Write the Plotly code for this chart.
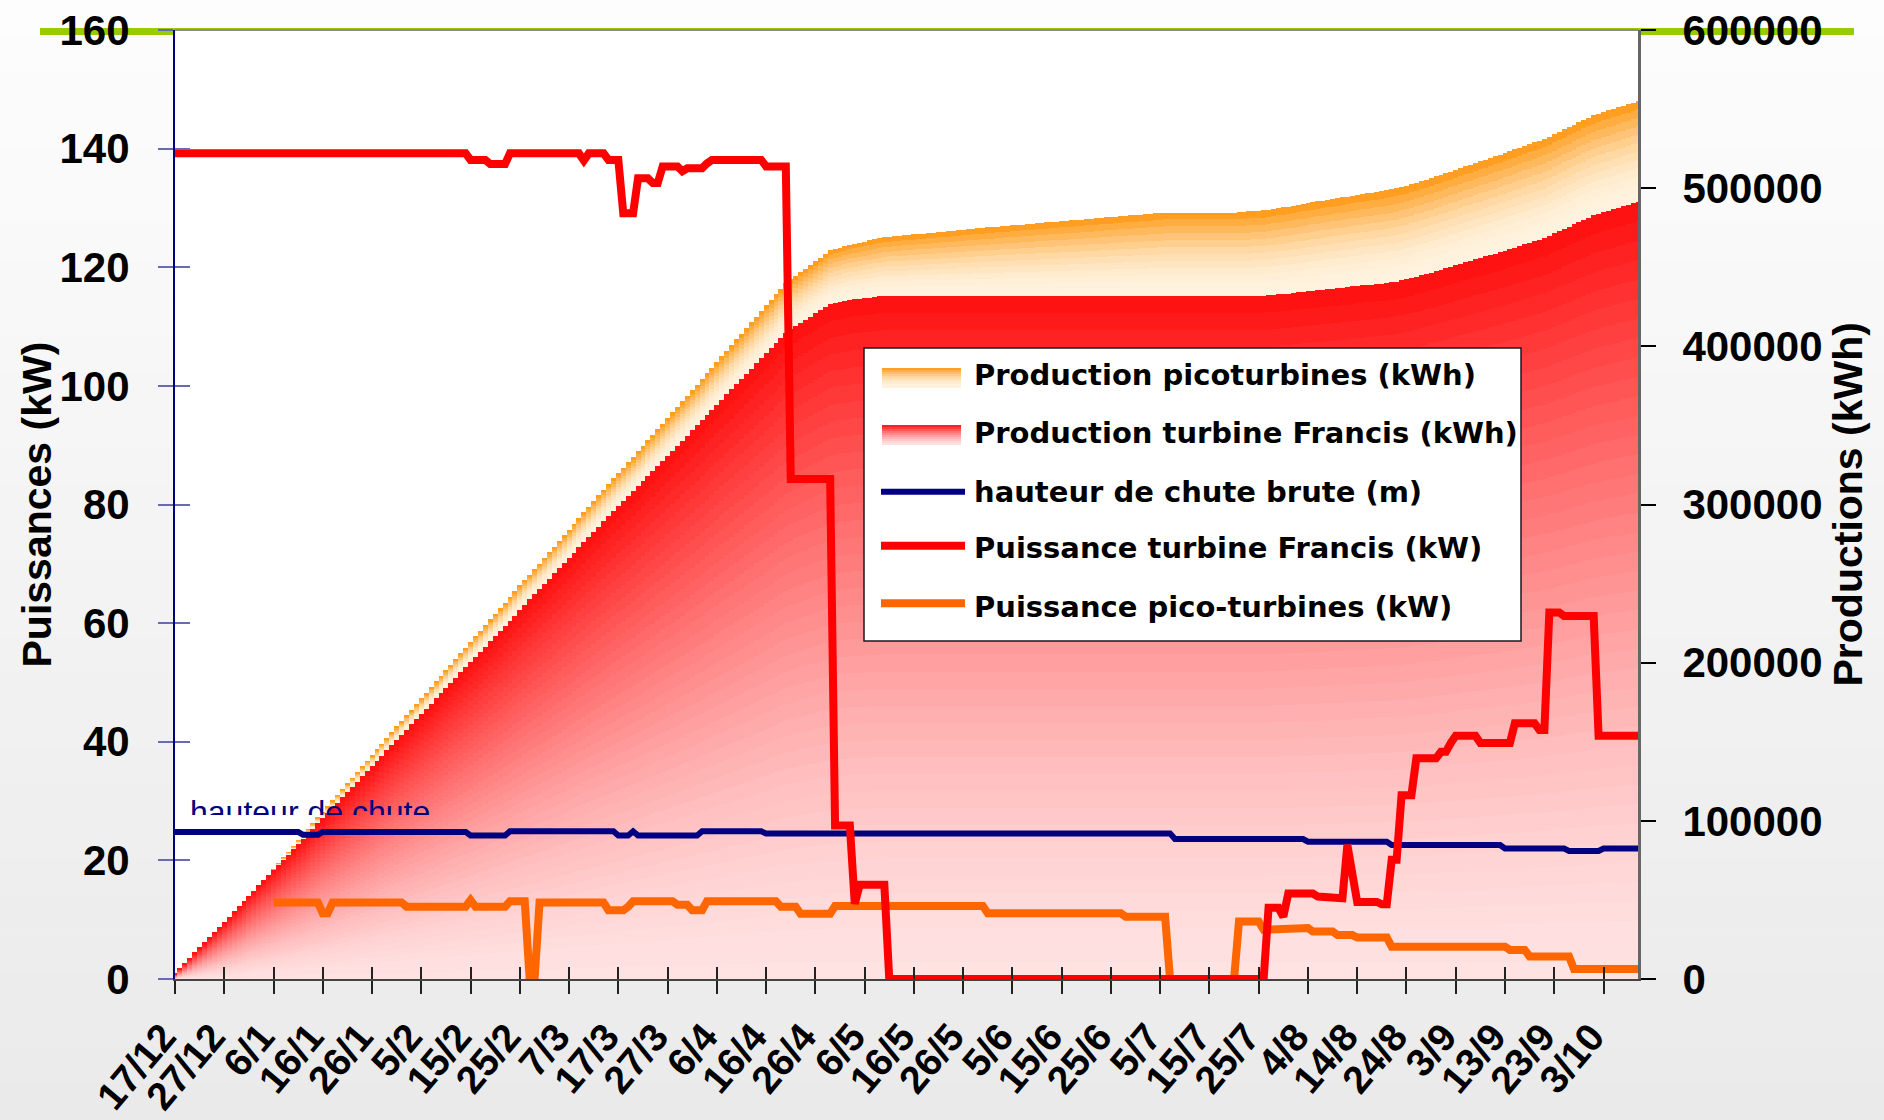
import plotly.graph_objects as go
import pandas as pd

# ---------------- data ----------------
start_date = "2008-12-17"
n_days = 298

tick_labels = ["17/12", "27/12", "6/1", "16/1", "26/1", "5/2", "15/2", "25/2", "7/3", "17/3",
               "27/3", "6/4", "16/4", "26/4", "6/5", "16/5", "26/5", "5/6", "15/6", "25/6",
               "5/7", "15/7", "25/7", "4/8", "14/8", "24/8", "3/9", "13/9", "23/9", "3/10"]

left_ticks = [0, 20, 40, 60, 80, 100, 120, 140, 160]
right_ticks = [0, 100000, 200000, 300000, 400000, 500000, 600000]

# cumulative production, Francis turbine (kWh), one value per day
prod_francis_kwh = [
    3291, 6582, 9873, 13164, 16455, 19746, 23037, 26328, 29619, 32910,
    36201, 39492, 42783, 46074, 49365, 52656, 55947, 59238, 62529, 65820,
    69111, 72402, 75693, 78984, 82275, 85566, 88857, 92148, 95439, 98730,
    102021, 105312, 108603, 111894, 115185, 118476, 121767, 125058, 128349, 131640,
    134931, 138222, 141513, 144804, 148095, 151386, 154677, 157968, 161259, 164550,
    167841, 171132, 174423, 177714, 181005, 184296, 187587, 190878, 194169, 197460,
    200726, 203992, 207258, 210524, 213773, 217022, 220271, 223520, 226811, 230102,
    233393, 236684, 239975, 243266, 246557, 249848, 253139, 256430, 259721, 263012,
    266303, 269594, 272885, 276148, 279439, 282730, 286021, 289312, 292578, 295844,
    299110, 302163, 305216, 308269, 311461, 314653, 317845, 321018, 324191, 327431,
    330671, 333911, 337151, 340371, 343604, 346837, 350070, 353303, 356555, 359821,
    363087, 366353, 369619, 372885, 376151, 379417, 382683, 385949, 389215, 392481,
    395721, 398961, 402201, 405441, 408681, 410704, 412727, 414750, 416773, 418796,
    420819, 422842, 424865, 426888, 427510, 428132, 428754, 429376, 429681, 430063,
    430445, 430827, 431209, 431591, 431973, 431973, 431973, 431973, 431973, 431973,
    431973, 431973, 431973, 431973, 431973, 431973, 431973, 431973, 431973, 431973,
    431973, 431973, 431973, 431973, 431973, 431973, 431973, 431973, 431973, 431973,
    431973, 431973, 431973, 431973, 431973, 431973, 431973, 431973, 431973, 431973,
    431973, 431973, 431973, 431973, 431973, 431973, 431973, 431973, 431973, 431973,
    431973, 431973, 431973, 431973, 431973, 431973, 431973, 431973, 431973, 431973,
    431973, 431973, 431973, 431973, 431973, 431973, 431973, 431973, 431973, 431973,
    431973, 431973, 431973, 431973, 431973, 431973, 431973, 431973, 431973, 431973,
    431973, 431973, 432253, 432533, 432813, 433058, 433395, 433732, 434069, 434406,
    434743, 435080, 435405, 435730, 436055, 436380, 436698, 437016, 437334, 437863,
    438167, 438471, 438775, 439079, 439383, 439678, 439973, 440443, 440913, 441638,
    442363, 443088, 443958, 444828, 445698, 446568, 447438, 448334, 449230, 450161,
    451120, 452079, 453038, 453997, 454956, 455887, 456818, 457749, 458680, 459611,
    460542, 461473, 462481, 463489, 464497, 465505, 466513, 467496, 468479, 469925,
    471371, 472817, 474249, 475681, 477113, 478545, 479977, 481409, 482841, 483800,
    484759, 485718, 486677, 487636, 488595, 489554, 490513, 491472,
]

# cumulative production, pico-turbines (kWh), one value per day
prod_pico_kwh = [
    0, 0, 0, 0, 0, 0, 0, 0, 0, 0,
    0, 0, 0, 0, 0, 0, 0, 0, 0, 0,
    310, 620, 930, 1240, 1550, 1860, 2170, 2480, 2790, 3100,
    3366, 3632, 3942, 4252, 4562, 4872, 5182, 5492, 5802, 6112,
    6422, 6732, 7042, 7352, 7662, 7972, 8282, 8575, 8868, 9161,
    9454, 9747, 10040, 10333, 10626, 10919, 11212, 11505, 11798, 12091,
    12410, 12703, 12996, 13289, 13582, 13875, 14168, 14461, 14775, 15089,
    15403, 15717, 15717, 15717, 16027, 16337, 16647, 16957, 17267, 17577,
    17887, 18197, 18507, 18817, 19127, 19437, 19747, 20057, 20335, 20613,
    20891, 21169, 21462, 21776, 22090, 22404, 22718, 23032, 23346, 23660,
    23974, 24288, 24588, 24888, 25188, 25466, 25744, 26022, 26336, 26650,
    26964, 27278, 27592, 27906, 28220, 28534, 28848, 29162, 29476, 29790,
    30104, 30418, 30732, 31025, 31318, 31611, 31904, 32168, 32432, 32696,
    32960, 33224, 33488, 33752, 34047, 34342, 34637, 34932, 35227, 35522,
    35817, 36112, 36407, 36702, 36997, 37292, 37587, 37882, 38177, 38472,
    38767, 39062, 39357, 39652, 39947, 40242, 40537, 40832, 41127, 41422,
    41717, 42012, 42307, 42602, 42897, 43163, 43429, 43695, 43961, 44227,
    44493, 44759, 45025, 45291, 45557, 45823, 46089, 46355, 46621, 46887,
    47153, 47419, 47685, 47951, 48217, 48483, 48749, 49015, 49281, 49547,
    49813, 50079, 50345, 50597, 50849, 51101, 51353, 51605, 51857, 52109,
    52361, 52613, 52613, 52613, 52613, 52613, 52613, 52613, 52613, 52613,
    52613, 52613, 52613, 52613, 52613, 52613, 52846, 53079, 53312, 53545,
    53778, 53977, 54176, 54375, 54574, 54773, 54972, 55171, 55377, 55583,
    55789, 55981, 56173, 56365, 56557, 56749, 56927, 57105, 57283, 57461,
    57629, 57797, 57965, 58133, 58301, 58469, 58637, 58768, 58899, 59030,
    59161, 59292, 59423, 59554, 59685, 59816, 59947, 60078, 60209, 60340,
    60471, 60602, 60733, 60864, 60995, 61126, 61257, 61388, 61519, 61650,
    61781, 61899, 62017, 62135, 62253, 62344, 62435, 62526, 62617, 62708,
    62799, 62890, 62981, 63072, 63113, 63154, 63195, 63236, 63277, 63318,
    63359, 63400, 63441, 63482, 63523, 63564, 63605, 63646,
]

# gross head (m)
hauteur_chute_m = [
    24.8, 24.8, 24.8, 24.8, 24.8, 24.8, 24.8, 24.8, 24.8, 24.8,
    24.8, 24.8, 24.8, 24.8, 24.8, 24.8, 24.8, 24.8, 24.8, 24.8,
    24.8, 24.8, 24.8, 24.8, 24.8, 24.8, 24.3, 24.3, 24.3, 24.3,
    24.8, 24.8, 24.8, 24.8, 24.8, 24.8, 24.8, 24.8, 24.8, 24.8,
    24.8, 24.8, 24.8, 24.8, 24.8, 24.8, 24.8, 24.8, 24.8, 24.8,
    24.8, 24.8, 24.8, 24.8, 24.8, 24.8, 24.8, 24.8, 24.8, 24.8,
    24.2, 24.2, 24.2, 24.2, 24.2, 24.2, 24.2, 24.2, 24.9, 24.9,
    24.9, 24.9, 24.9, 24.9, 24.9, 24.9, 24.9, 24.9, 24.9, 24.9,
    24.9, 24.9, 24.9, 24.9, 24.9, 24.9, 24.9, 24.9, 24.9, 24.9,
    24.2, 24.2, 24.2, 24.9, 24.2, 24.2, 24.2, 24.2, 24.2, 24.2,
    24.2, 24.2, 24.2, 24.2, 24.2, 24.2, 24.2, 24.9, 24.9, 24.9,
    24.9, 24.9, 24.9, 24.9, 24.9, 24.9, 24.9, 24.9, 24.9, 24.9,
    24.55, 24.55, 24.55, 24.55, 24.55, 24.55, 24.55, 24.55, 24.55, 24.55,
    24.55, 24.55, 24.55, 24.55, 24.55, 24.55, 24.55, 24.55, 24.55, 24.55,
    24.55, 24.55, 24.55, 24.55, 24.55, 24.55, 24.55, 24.55, 24.55, 24.55,
    24.55, 24.55, 24.55, 24.55, 24.55, 24.55, 24.55, 24.55, 24.55, 24.55,
    24.55, 24.55, 24.55, 24.55, 24.55, 24.55, 24.55, 24.55, 24.55, 24.55,
    24.55, 24.55, 24.55, 24.55, 24.55, 24.55, 24.55, 24.55, 24.55, 24.55,
    24.55, 24.55, 24.55, 24.55, 24.55, 24.55, 24.55, 24.55, 24.55, 24.55,
    24.55, 24.55, 24.55, 24.55, 24.55, 24.55, 24.55, 24.55, 24.55, 24.55,
    24.55, 24.55, 24.55, 23.6, 23.6, 23.6, 23.6, 23.6, 23.6, 23.6,
    23.6, 23.6, 23.6, 23.6, 23.6, 23.6, 23.6, 23.6, 23.6, 23.6,
    23.6, 23.6, 23.6, 23.6, 23.6, 23.6, 23.6, 23.6, 23.6, 23.6,
    23.15, 23.15, 23.15, 23.15, 23.15, 23.15, 23.15, 23.15, 23.15, 23.15,
    23.15, 23.15, 23.15, 23.15, 23.15, 23.15, 23.15, 22.6, 22.6, 22.6,
    22.6, 22.6, 22.6, 22.6, 22.6, 22.6, 22.6, 22.6, 22.6, 22.6,
    22.6, 22.6, 22.6, 22.6, 22.6, 22.6, 22.6, 22.6, 22.6, 22.6,
    22.0, 22.0, 22.0, 22.0, 22.0, 22.0, 22.0, 22.0, 22.0, 22.0,
    22.0, 22.0, 22.0, 21.6, 21.6, 21.6, 21.6, 21.6, 21.6, 21.6,
    22.0, 22.0, 22.0, 22.0, 22.0, 22.0, 22.0, 22.0,
]

# Francis turbine power (kW)
puissance_francis_kw = [
    139.2, 139.2, 139.2, 139.2, 139.2, 139.2, 139.2, 139.2, 139.2, 139.2,
    139.2, 139.2, 139.2, 139.2, 139.2, 139.2, 139.2, 139.2, 139.2, 139.2,
    139.2, 139.2, 139.2, 139.2, 139.2, 139.2, 139.2, 139.2, 139.2, 139.2,
    139.2, 139.2, 139.2, 139.2, 139.2, 139.2, 139.2, 139.2, 139.2, 139.2,
    139.2, 139.2, 139.2, 139.2, 139.2, 139.2, 139.2, 139.2, 139.2, 139.2,
    139.2, 139.2, 139.2, 139.2, 139.2, 139.2, 139.2, 139.2, 139.2, 139.2,
    138.1, 138.1, 138.1, 138.1, 137.4, 137.4, 137.4, 137.4, 139.2, 139.2,
    139.2, 139.2, 139.2, 139.2, 139.2, 139.2, 139.2, 139.2, 139.2, 139.2,
    139.2, 139.2, 139.2, 138.0, 139.2, 139.2, 139.2, 139.2, 138.1, 138.1,
    138.1, 129.1, 129.1, 129.1, 135.0, 135.0, 135.0, 134.2, 134.2, 137.0,
    137.0, 137.0, 137.0, 136.2, 136.7, 136.7, 136.7, 136.7, 137.5, 138.1,
    138.1, 138.1, 138.1, 138.1, 138.1, 138.1, 138.1, 138.1, 138.1, 138.1,
    137.0, 137.0, 137.0, 137.0, 137.0, 84.3, 84.3, 84.3, 84.3, 84.3,
    84.3, 84.3, 84.3, 84.3, 25.9, 25.9, 25.9, 25.9, 12.7, 15.9,
    15.9, 15.9, 15.9, 15.9, 15.9, 0, 0, 0, 0, 0,
    0, 0, 0, 0, 0, 0, 0, 0, 0, 0,
    0, 0, 0, 0, 0, 0, 0, 0, 0, 0,
    0, 0, 0, 0, 0, 0, 0, 0, 0, 0,
    0, 0, 0, 0, 0, 0, 0, 0, 0, 0,
    0, 0, 0, 0, 0, 0, 0, 0, 0, 0,
    0, 0, 0, 0, 0, 0, 0, 0, 0, 0,
    0, 0, 0, 0, 0, 0, 0, 0, 0, 0,
    0, 0, 12.0, 12.0, 12.0, 10.5, 14.4, 14.4, 14.4, 14.4,
    14.4, 14.4, 13.9, 13.9, 13.9, 13.9, 13.6, 13.6, 22.6, 18.0,
    13.0, 13.0, 13.0, 13.0, 13.0, 12.6, 12.6, 20.1, 20.1, 31.0,
    31.0, 31.0, 37.2, 37.2, 37.2, 37.2, 37.2, 38.3, 38.3, 39.8,
    41.0, 41.0, 41.0, 41.0, 41.0, 39.8, 39.8, 39.8, 39.8, 39.8,
    39.8, 39.8, 43.1, 43.1, 43.1, 43.1, 43.1, 42.0, 42.0, 61.8,
    61.8, 61.8, 61.2, 61.2, 61.2, 61.2, 61.2, 61.2, 61.2, 41.0,
    41.0, 41.0, 41.0, 41.0, 41.0, 41.0, 41.0, 41.0,
]

# pico-turbines power (kW); no measurement before 6/1
puissance_pico_kw = [
    None, None, None, None, None, None, None, None, None, None,
    None, None, None, None, None, None, None, None, None, None,
    12.9, 12.9, 12.9, 12.9, 12.9, 12.9, 12.9, 12.9, 12.9, 12.9,
    11.1, 11.1, 12.9, 12.9, 12.9, 12.9, 12.9, 12.9, 12.9, 12.9,
    12.9, 12.9, 12.9, 12.9, 12.9, 12.9, 12.9, 12.2, 12.2, 12.2,
    12.2, 12.2, 12.2, 12.2, 12.2, 12.2, 12.2, 12.2, 12.2, 12.2,
    13.3, 12.2, 12.2, 12.2, 12.2, 12.2, 12.2, 12.2, 13.1, 13.1,
    13.1, 13.1, 0, 0, 12.9, 12.9, 12.9, 12.9, 12.9, 12.9,
    12.9, 12.9, 12.9, 12.9, 12.9, 12.9, 12.9, 12.9, 11.6, 11.6,
    11.6, 11.6, 12.2, 13.1, 13.1, 13.1, 13.1, 13.1, 13.1, 13.1,
    13.1, 13.1, 12.5, 12.5, 12.5, 11.6, 11.6, 11.6, 13.1, 13.1,
    13.1, 13.1, 13.1, 13.1, 13.1, 13.1, 13.1, 13.1, 13.1, 13.1,
    13.1, 13.1, 13.1, 12.2, 12.2, 12.2, 12.2, 11.0, 11.0, 11.0,
    11.0, 11.0, 11.0, 11.0, 12.3, 12.3, 12.3, 12.3, 12.3, 12.3,
    12.3, 12.3, 12.3, 12.3, 12.3, 12.3, 12.3, 12.3, 12.3, 12.3,
    12.3, 12.3, 12.3, 12.3, 12.3, 12.3, 12.3, 12.3, 12.3, 12.3,
    12.3, 12.3, 12.3, 12.3, 12.3, 11.1, 11.1, 11.1, 11.1, 11.1,
    11.1, 11.1, 11.1, 11.1, 11.1, 11.1, 11.1, 11.1, 11.1, 11.1,
    11.1, 11.1, 11.1, 11.1, 11.1, 11.1, 11.1, 11.1, 11.1, 11.1,
    11.1, 11.1, 11.1, 10.5, 10.5, 10.5, 10.5, 10.5, 10.5, 10.5,
    10.5, 10.5, 0, 0, 0, 0, 0, 0, 0, 0,
    0, 0, 0, 0, 0, 0, 9.7, 9.7, 9.7, 9.7,
    9.7, 8.3, 8.3, 8.3, 8.3, 8.3, 8.3, 8.3, 8.6, 8.6,
    8.6, 8.0, 8.0, 8.0, 8.0, 8.0, 7.4, 7.4, 7.4, 7.4,
    7.0, 7.0, 7.0, 7.0, 7.0, 7.0, 7.0, 5.45, 5.45, 5.45,
    5.45, 5.45, 5.45, 5.45, 5.45, 5.45, 5.45, 5.45, 5.45, 5.45,
    5.45, 5.45, 5.45, 5.45, 5.45, 5.45, 5.45, 5.45, 5.45, 5.45,
    5.45, 4.9, 4.9, 4.9, 4.9, 3.8, 3.8, 3.8, 3.8, 3.8,
    3.8, 3.8, 3.8, 3.8, 1.7, 1.7, 1.7, 1.7, 1.7, 1.7,
    1.7, 1.7, 1.7, 1.7, 1.7, 1.7, 1.7, 1.7,
]

dates = pd.date_range(start_date, periods=n_days, freq="D")
tick_dates = dates[::10]

# ---------------- geometry helpers (pixels -> paper) ----------------
W, H = 1884, 1120
ML, MR, MT, MB = 175, 246, 30, 141
PW = W - ML - MR
PH = H - MT - MB


def px(xp):
    return (xp - ML) / PW


def py(yp):
    return (H - MB - yp) / PH


def mix(c0, c1, t):
    return "rgb(%d,%d,%d)" % tuple(round(a + (b - a) * t) for a, b in zip(c0, c1))


FR_BOT, FR_TOP = (255, 226, 226), (255, 14, 14)
PI_BOT, PI_TOP = (255, 243, 224), (255, 150, 15)


def fr_col(t):
    return mix(FR_BOT, FR_TOP, t ** 1.5)


def pi_col(t):
    return mix(PI_BOT, PI_TOP, t ** 2)


BOLD = "Liberation Sans, Arial, sans-serif"

fig = go.Figure()

# ---------------- stacked gradient columns (right axis) ----------------
NF, NP = 40, 12
for k in range(NF):
    fig.add_trace(go.Bar(
        x=dates, y=[v / NF for v in prod_francis_kwh], width=86400000,
        marker=dict(color=fr_col((k + 0.5) / NF), line=dict(width=0)),
        name="Production turbine Francis (kWh)", legendgroup="pf",
        showlegend=False, hoverinfo="skip", xaxis="x", yaxis="y"))
for k in range(NP):
    fig.add_trace(go.Bar(
        x=dates, y=[v / NP for v in prod_pico_kwh], width=86400000,
        marker=dict(color=pi_col((k + 0.5) / NP), line=dict(width=0)),
        name="Production picoturbines (kWh)", legendgroup="pp",
        showlegend=False, hoverinfo="skip", xaxis="x", yaxis="y"))

# ---------------- lines (left axis) ----------------
fig.add_trace(go.Scatter(x=dates, y=hauteur_chute_m, mode="lines",
                         line=dict(color="#000080", width=6),
                         name="hauteur de chute brute (m)", showlegend=False,
                         hoverinfo="skip", xaxis="x", yaxis="y2"))
fig.add_trace(go.Scatter(x=dates, y=puissance_pico_kw, mode="lines",
                         line=dict(color="#FF6600", width=8),
                         name="Puissance pico-turbines (kW)", showlegend=False,
                         hoverinfo="skip", xaxis="x", yaxis="y2"))
fig.add_trace(go.Scatter(x=dates, y=puissance_francis_kw, mode="lines",
                         line=dict(color="#FF0000", width=8),
                         name="Puissance turbine Francis (kW)", showlegend=False,
                         hoverinfo="skip", xaxis="x", yaxis="y2"))

# helper traces for the inner half of the crossing tick marks
fig.add_trace(go.Scatter(x=[dates[0]], y=[None], mode="lines", showlegend=False,
                         hoverinfo="skip", xaxis="x2", yaxis="y"))
fig.add_trace(go.Scatter(x=[dates[0]], y=[None], mode="lines", showlegend=False,
                         hoverinfo="skip", xaxis="x", yaxis="y3"))

# clipped series label "hauteur de chute"
fig.add_trace(go.Scatter(x=[px(190)], y=[0.0], mode="text",
                         text=["hauteur de chute"], textposition="middle right",
                         textfont=dict(family="Liberation Sans, Arial", size=32, color="#000080"),
                         cliponaxis=True, showlegend=False, hoverinfo="skip",
                         xaxis="x4", yaxis="y4"))

x_range = [dates[0], dates[-1]]

# ---------------- background shapes ----------------
shapes = []
NB = 30
for i in range(NB):
    y0 = H * i / NB
    y1 = H * (i + 1) / NB
    g = round(253 - 19 * ((i + 0.5) / NB))
    shapes.append(dict(type="rect", xref="paper", yref="paper", layer="below",
                       x0=px(0), x1=px(W), y0=py(y1), y1=py(y0),
                       fillcolor="rgb(%d,%d,%d)" % (g, g, g), line=dict(width=0)))
shapes.append(dict(type="line", xref="paper", yref="paper", layer="below",
                   x0=px(40), x1=px(1854), y0=py(31.5), y1=py(31.5),
                   line=dict(color="#99CC00", width=7)))
shapes.append(dict(type="rect", xref="paper", yref="paper", layer="below",
                   x0=0, x1=1, y0=0, y1=1, fillcolor="white", line=dict(width=0)))
shapes.append(dict(type="line", xref="paper", yref="paper", layer="above",
                   x0=0, x1=1, y0=1, y1=1, line=dict(color="#8C8C8C", width=2)))

# ---------------- legend (drawn) ----------------
LX0, LX1, LY0, LY1 = 864, 1521, 348, 641
shapes.append(dict(type="rect", xref="paper", yref="paper", layer="above",
                   x0=px(LX0), x1=px(LX1), y0=py(LY1), y1=py(LY0),
                   fillcolor="white", line=dict(color="#1a1a1a", width=1.5)))
patches = [(368, 388, pi_col), (425, 445, fr_col)]
NS = 10
for (ya, yb, fn) in patches:
    for i in range(NS):
        s0 = ya + (yb - ya) * i / NS
        s1 = ya + (yb - ya) * (i + 1) / NS
        t = 1 - (i + 0.5) / NS
        shapes.append(dict(type="rect", xref="paper", yref="paper", layer="above",
                           x0=px(882), x1=px(961), y0=py(s1), y1=py(s0),
                           fillcolor=fn(t), line=dict(width=0)))
for (yy, col, wd) in [(491.7, "#000080", 6), (545.7, "#FF0000", 8), (603.3, "#FF6600", 8)]:
    shapes.append(dict(type="line", xref="paper", yref="paper", layer="above",
                       x0=px(881), x1=px(965), y0=py(yy), y1=py(yy),
                       line=dict(color=col, width=wd)))

legend_rows = [(375, "Production picoturbines (kWh)"),
               (433.3, "Production turbine Francis (kWh)"),
               (491.7, "hauteur de chute brute (m)"),
               (548.3, "Puissance turbine Francis (kW)"),
               (606.7, "Puissance pico-turbines (kW)")]
annotations = []
for (yy, txt) in legend_rows:
    annotations.append(dict(text=txt, xref="paper", yref="paper", x=px(972), y=py(yy),
                            xanchor="left", yanchor="middle", showarrow=False,
                            font=dict(family="DejaVu Sans", size=29, color="black", weight="bold")))

# axis titles
annotations.append(dict(text="Puissances (kW)", xref="paper", yref="paper", x=px(36), y=0.5,
                        textangle=-90, xanchor="center", yanchor="middle", showarrow=False,
                        font=dict(family=BOLD, size=41, color="black", weight="bold")))
annotations.append(dict(text="Productions (kWh)", xref="paper", yref="paper", x=px(1847), y=0.5,
                        textangle=-90, xanchor="center", yanchor="middle", showarrow=False,
                        font=dict(family=BOLD, size=41, color="black", weight="bold")))

tickfont = dict(family=BOLD, size=42, color="black", weight="bold")

fig.update_layout(
    width=W, height=H,
    margin=dict(l=ML, r=MR, t=MT, b=MB, pad=0, autoexpand=False),
    paper_bgcolor="#F4F4F4", plot_bgcolor="rgba(0,0,0,0)",
    barmode="stack", bargap=0, hovermode=False, showlegend=False,
    shapes=shapes, annotations=annotations,
    xaxis=dict(type="date", domain=[0, 1], anchor="y", range=x_range, automargin=False,
               tickmode="array", tickvals=tick_dates, ticktext=tick_labels,
               tickangle=-50, ticks="outside", ticklen=13, tickwidth=1.5, tickcolor="#222",
               showline=True, linecolor="#444", linewidth=2, showgrid=False, zeroline=False,
               tickfont=dict(family=BOLD, size=39, color="black", weight="bold"),
               ticklabelstandoff=4, ticklabelshift=-12),
    xaxis2=dict(type="date", overlaying="x", anchor="y", side="bottom", range=x_range,
                automargin=False,
                tickmode="array", tickvals=tick_dates, ticks="inside", ticklen=12,
                tickwidth=1.5, tickcolor="#222", showticklabels=False, showline=False,
                showgrid=False, zeroline=False),
    yaxis=dict(side="right", anchor="x", range=[0, 600000], tickmode="array", automargin=False,
               tickvals=right_ticks, tickformat="d", ticks="outside", ticklen=15,
               tickwidth=1.5, tickcolor="black", showline=True, linecolor="#666",
               linewidth=3, showgrid=False, zeroline=False, tickfont=tickfont,
               ticklabelstandoff=18),
    yaxis2=dict(overlaying="y", side="left", anchor="x", range=[0, 160], tickmode="array",
                automargin=False,
                tickvals=left_ticks, ticks="outside", ticklen=15, tickwidth=2,
                tickcolor="#6A6AB4", showline=True, linecolor="#000080", linewidth=2,
                showgrid=False, zeroline=False, tickfont=tickfont, ticklabelstandoff=20),
    yaxis3=dict(overlaying="y", side="left", anchor="x", range=[0, 160], tickmode="array",
                automargin=False,
                tickvals=left_ticks, ticks="inside", ticklen=15, tickwidth=2,
                tickcolor="#6A6AB4", showticklabels=False, showline=False,
                showgrid=False, zeroline=False),
    xaxis4=dict(domain=[0, 1], anchor="y4", range=[0, 1], visible=False, automargin=False),
    yaxis4=dict(domain=[py(815), py(694)], anchor="x4", range=[0, 1], visible=False,
                automargin=False),
)

fig.write_html("out.html", config={"displayModeBar": False},
               post_script="document.body.style.margin='0';")
